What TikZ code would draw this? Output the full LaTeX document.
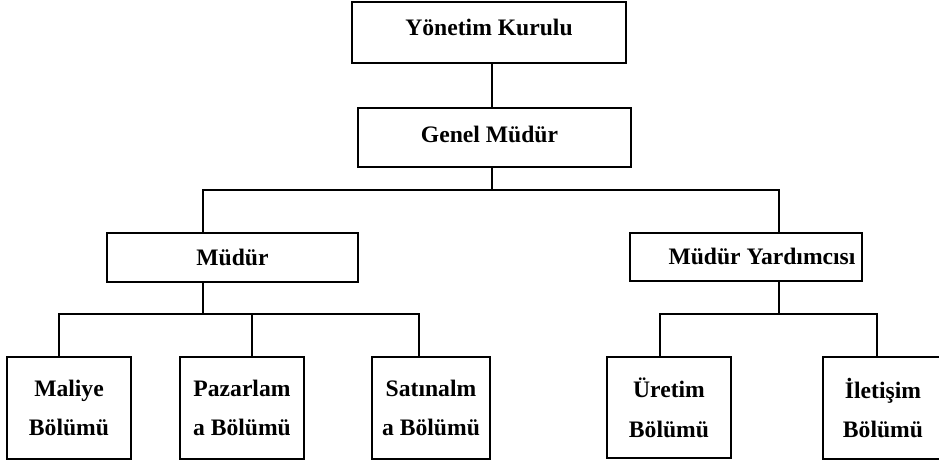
\documentclass[tikz,border=0pt]{standalone}
\usepackage{fontspec}
\setmainfont{Liberation Serif}
\begin{document}
\begin{tikzpicture}[x=1bp,y=-1bp,
  box/.style={draw, line width=1.5bp, rectangle, inner sep=0pt,
    font=\bfseries\fontsize{23.7}{40}\selectfont, align=center},
  unit/.style={box, minimum width=124bp, minimum height=102bp},
  conn/.style={line width=1.5bp}]
\useasboundingbox (0,0) rectangle (939,467);

% management levels
\node[box, minimum width=274bp, minimum height=61bp, text height=16bp, text depth=10.8bp]
  (yk) at (489,32.5) {Yönetim Kurulu};
\node[box, minimum width=273bp, minimum height=59bp, text height=16bp, text depth=6.8bp]
  (gm) at (494.5,137.5) {Genel Müdür\hspace*{10bp}};
\node[box, minimum width=251bp, minimum height=49bp, text height=16bp, text depth=0.8bp]
  (md) at (232.5,257.5) {Müdür};
\node[box, minimum width=232bp, minimum height=48bp, text height=16bp, text depth=0.8bp]
  (my) at (746,257) {\hspace*{32bp}Müdür Yardımcısı};

% departments
\node[unit] (mal) at (69,408) {Maliye\\Bölümü};
\node[unit] (paz) at (242,408) {Pazarlam\\a Bölümü};
\node[unit, minimum width=118bp] (sat) at (431,408) {Satınalm\\a Bölümü};
\node[unit, minimum height=101bp] (ure) at (669,407.5) {Üretim\\Bölümü};
\node[unit, minimum width=120bp] (ile) at (883,408) {İletişim\\Bölümü};

% bus points
\coordinate (top) at (492,190);
\coordinate (lb) at (203,190);
\coordinate (rb) at (779,190);
\coordinate (lf) at (203,314);
\coordinate (v1) at (59,314);
\coordinate (v2) at (252,314);
\coordinate (v3) at (419,314);
\coordinate (rf) at (779,314);
\coordinate (v4) at (660,314);
\coordinate (v5) at (877,314);

% connectors
\draw[conn] (yk.south -| top) -- (gm.north -| top);
\draw[conn] (gm.south -| top) -- (top);
\draw[conn] (md.north -| lb) |- (rb) -- (my.north -| rb);

\draw[conn] (md.south -| lf) -- (lf);
\draw[conn] (mal.north -| v1) |- (v3) -- (sat.north -| v3);
\draw[conn] (v2) -- (paz.north -| v2);

\draw[conn] (my.south -| rf) -- (rf);
\draw[conn] (ure.north -| v4) |- (v5) -- (ile.north -| v5);
\end{tikzpicture}
\end{document}
